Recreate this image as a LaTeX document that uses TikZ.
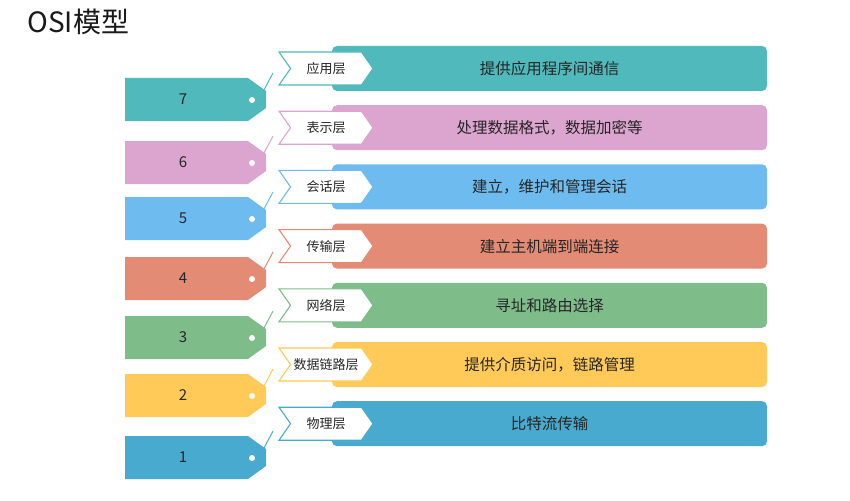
\documentclass[tikz,border=0pt]{standalone}
\usepackage{fontspec}
\setmainfont{Noto Sans CJK SC}
\usetikzlibrary{shapes.symbols}
\definecolor{osi7}{HTML}{4FB9BB}
\definecolor{osi6}{HTML}{DCA5CF}
\definecolor{osi5}{HTML}{6EBBEF}
\definecolor{osi4}{HTML}{E38B74}
\definecolor{osi3}{HTML}{7EBC8A}
\definecolor{osi2}{HTML}{FFCA57}
\definecolor{osi1}{HTML}{48AACE}
\tikzset{
  descbox/.style={rounded corners=5pt, minimum width=435pt, minimum height=45pt,
    inner sep=0pt, text=black!85, font=\fontsize{15.5}{17}\selectfont},
  laybox/.style={signal, signal to=east, signal from=west, signal pointer angle=110,
    draw, fill=white, line width=1.1pt, minimum width=94pt, minimum height=33pt,
    inner sep=0pt, text=black!85, font=\fontsize{13}{15}\selectfont},
  tagnum/.style={font=\fontsize{15}{18}\selectfont, text=black!85},
}

\begin{document}
\begin{tikzpicture}[x=1pt, y=-1pt]
    \useasboundingbox (0,0) rectangle (850,500);
    \node[anchor=base west, font=\fontsize{28}{32}\selectfont, text=black!90] (title) at (24,33) {OSI模型};

    % one row per layer: number, tag top, layer name, duty
    \foreach \n/\k/\t/\lay/\desc in {7/0/78/应用层/提供应用程序间通信,
        6/1/141/表示层/处理数据格式，数据加密等,
        5/2/197/会话层/建立，维护和管理会话,
        4/3/257/传输层/建立主机端到端连接,
        3/4/316/网络层/寻址和路由选择,
        2/5/374/数据链路层/提供介质访问，链路管理,
        1/6/436/物理层/比特流传输} {
        \pgfmathsetmacro\cy{68.5+59.2*\k}
        \node[descbox, fill=osi\n] (desc\n) at (549.5,\cy) {\desc};
        \node[laybox, draw=osi\n] (lay\n) at (326,\cy) {\lay};
        \fill[osi\n] (125,\t) -- (248,\t) -- (266,\t+13) -- (266,\t+30) -- (248,\t+43) -- (125,\t+43) -- cycle;
        \fill[white] (252,\t+22) circle (3);
        \node[tagnum] (num\n) at (183,\t+21.5) {\n};
        \coordinate (knot\n) at (264,\t+12);
        \coordinate (loose\n) at (273,\t-5);
        \draw[osi\n, line width=1pt] (knot\n) -- (loose\n);
    }
\end{tikzpicture}
\end{document}
